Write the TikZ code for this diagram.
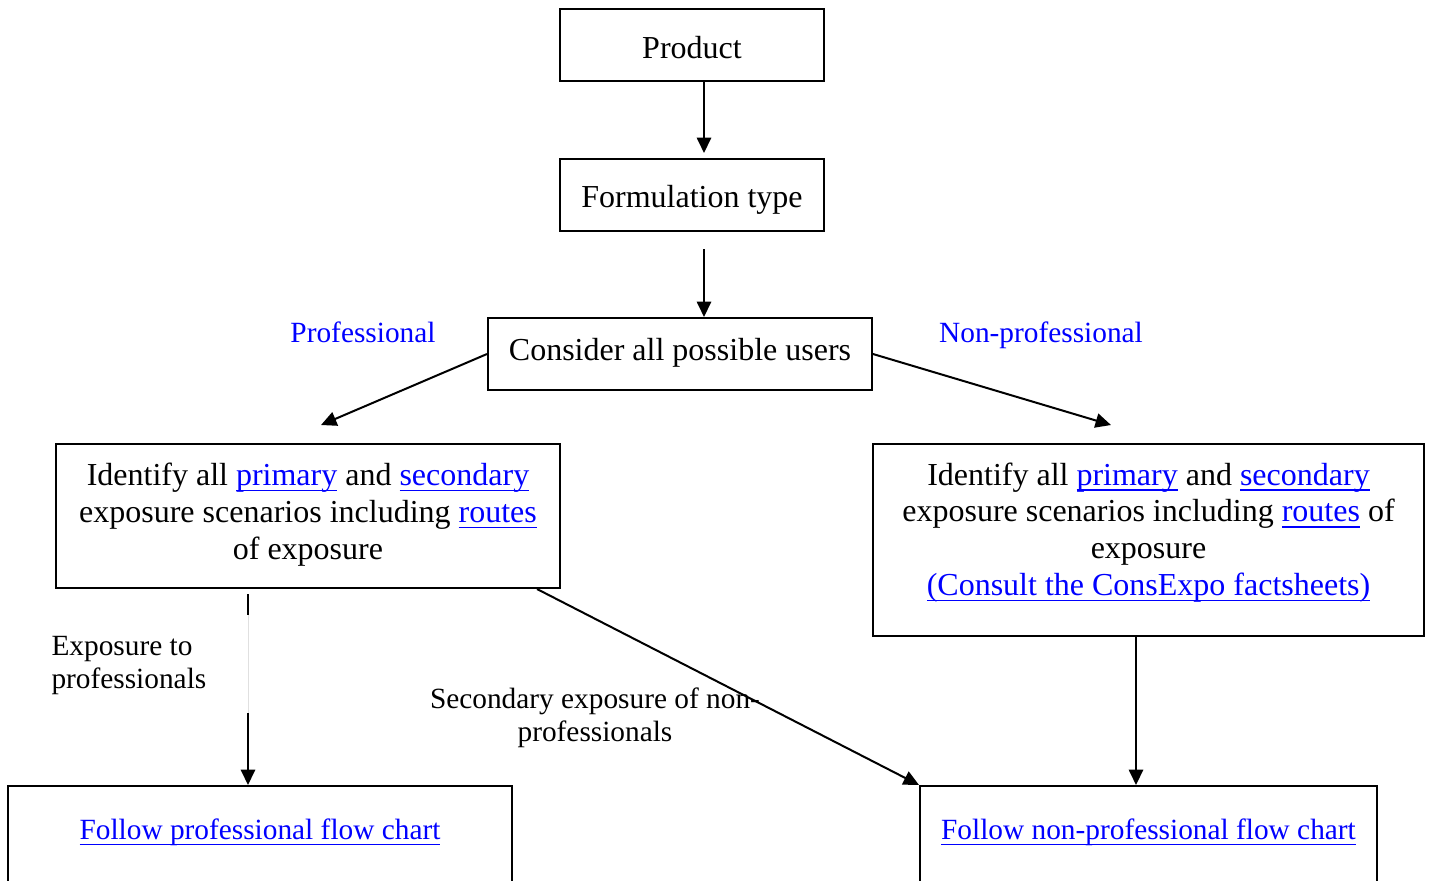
\documentclass[tikz,border=0pt]{standalone}
\usepackage{fontspec}
\setmainfont{Liberation Serif}
\usetikzlibrary{arrows.meta,calc}
\definecolor{lnk}{RGB}{0,0,255}
\newsavebox\lkbox
\newcommand\lk[1]{\sbox\lkbox{\color{lnk}#1}\rlap{\usebox\lkbox}{\color{lnk}\rule[-2.2pt]{\wd\lkbox}{0.6pt}}}
\newcommand\pxu{0.375pt}
\newcommand\mainfs{\fontsize{12pt}{13.8pt}\selectfont}
\newcommand\lblfs{\fontsize{11pt}{12.5pt}\selectfont}
\begin{document}
\begin{tikzpicture}[x=0.375pt,y=-0.375pt,
  box/.style={draw, line width=0.75pt, inner sep=0pt, font=\mainfs},
  arr/.style={line width=0.75pt, -{Triangle[length=5.8pt,width=5.4pt]}},
  lbl/.style={inner sep=0pt, font=\lblfs}]
\useasboundingbox (0,0) rectangle (1429,880);
\clip (0,0) rectangle (1429,880);

% boxes
\node[box, minimum width=264*\pxu, minimum height=72*\pxu, text height=10pt, text depth=0.25pt] (prod) at (692,45) {Product};
\node[box, minimum width=264*\pxu, minimum height=72*\pxu, text height=9.5pt, text depth=0.5pt] (form) at (692,195) {Formulation type};
\node[box, minimum width=384*\pxu, minimum height=72*\pxu, text height=6pt, text depth=1.5pt] (cons) at (680,354) {Consider all possible users};
\node[box, minimum width=504*\pxu, minimum height=144*\pxu] (lid) at (308,516)
  {\begin{tabular}{@{}c@{}}Identify all \lk{primary} and \lk{secondary}\\
   exposure scenarios including \lk{routes}\\
   of exposure\\[0.75pt]\end{tabular}};
\node[box, minimum width=551*\pxu, minimum height=192*\pxu] (rid) at (1148.5,540)
  {\begin{tabular}{@{}c@{}}Identify all \lk{primary} and \lk{secondary}\\
   exposure scenarios including \lk{routes} of\\
   exposure\\
   \lk{(Consult the ConsExpo factsheets)}\\[5.3pt]\end{tabular}};
\node[box, anchor=north, minimum width=504*\pxu, inner ysep=11.25pt, font=\lblfs] (fp) at (260,785)
  {\begin{tabular}{@{}c@{}}\lk{Follow professional flow chart}\\[30pt]\end{tabular}};
\node[box, anchor=north, minimum width=457*\pxu, inner ysep=11.25pt, font=\lblfs] (fnp) at (1148.5,785)
  {\begin{tabular}{@{}c@{}}\lk{Follow non-professional flow chart}\\[30pt]\end{tabular}};

% labels
\node[lbl, text=lnk, anchor=base] (plab) at (363,342) {Professional};
\node[lbl, text=lnk, anchor=base] (nplab) at (1041,342) {Non-professional};
\node[lbl, anchor=base west] (explab) at (51,655)
  {\begin{tabular}[t]{@{}l@{}}Exposure to\\professionals\end{tabular}};

% connectors
\coordinate (t1) at (704,153);
\draw[arr] (prod.south -| t1) -- (t1);
\coordinate (t2) at (704,320);
\draw[arr] ($(form.south -| t2)+(0,17)$) -- (cons.north -| t2);
\coordinate (pl) at (321,425);
\draw[arr] (cons.west) -- (pl);
\coordinate (pr) at (1111,425);
\draw[arr] (cons.east) -- (pr);
\coordinate (vx) at (248,0);
\draw[arr] ($(lid.south -| vx)+(0,5)$) -- (fp.north -| vx);
\draw[white, line width=1.5pt] (248,615) -- (248,713);
\draw[black!12, line width=0.3pt] (248,615) -- (248,713);
\draw[arr] ($(lid.south east)+(-24,0)$) -- (fnp.north west);
\coordinate (vr) at (1136,0);
\draw[arr] (rid.south -| vr) -- (fnp.north -| vr);

\node[lbl, anchor=base] (seclab) at (595,708)
  {\begin{tabular}[t]{@{}c@{}}Secondary exposure of non-\\professionals\end{tabular}};
\end{tikzpicture}
\end{document}
